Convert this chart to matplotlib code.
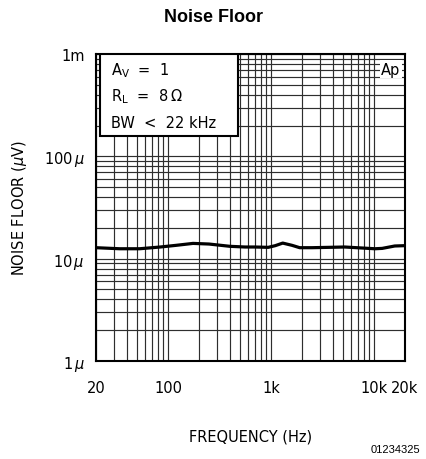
import matplotlib
matplotlib.use("Agg")
import matplotlib.pyplot as plt
from matplotlib.patches import Rectangle
from matplotlib.ticker import FixedLocator, FixedFormatter, LogLocator, NullFormatter

# curve (Hz, volts)
freq_hz = [20, 34, 53, 84, 120, 175, 250, 400, 560, 700, 940, 1100, 1300, 1600,
           1900, 2500, 5200, 10200, 12000, 15900, 20000]
noise_v = [12.8e-6, 12.5e-6, 12.5e-6, 13.0e-6, 13.5e-6, 14.1e-6, 13.9e-6, 13.2e-6,
           13.0e-6, 13.0e-6, 12.9e-6, 13.4e-6, 14.2e-6, 13.5e-6, 12.8e-6, 12.8e-6,
           13.0e-6, 12.5e-6, 12.6e-6, 13.3e-6, 13.4e-6]

x_ticks = [20, 100, 1000, 10000, 20000]
x_labels = ["20", "100", "1k", "10k", "20k"]
y_ticks = [1e-6, 1e-5, 1e-4, 1e-3]
y_labels = ["1$\\,\\mu$", "10$\\,\\mu$", "100$\\,\\mu$", "1m"]
box_lines = ["A$_\\mathregular{V}$  =  1", "R$_\\mathregular{L}$  =  8$\\,\\Omega$", "BW  <  22 kHz"]

plt.rcParams["font.family"] = ["DejaVu Sans"]
plt.rcParams["mathtext.fontset"] = "dejavusans"

fig = plt.figure(figsize=(4.27, 4.60), dpi=100)
ax = fig.add_axes([96 / 427, 1 - 362 / 460, 309 / 427, 307 / 460])

ax.set_xscale("log")
ax.set_yscale("log")
ax.set_xlim(20, 20000)
ax.set_ylim(1e-6, 1e-3)

ax.plot(freq_hz, noise_v, color="black", linewidth=2.3, solid_capstyle="round", zorder=3)

ax.xaxis.set_major_locator(FixedLocator(x_ticks))
ax.xaxis.set_major_formatter(FixedFormatter(x_labels))
ax.xaxis.set_minor_locator(LogLocator(base=10, subs=range(2, 10)))
ax.xaxis.set_minor_formatter(NullFormatter())
ax.yaxis.set_major_locator(FixedLocator(y_ticks))
ax.yaxis.set_major_formatter(FixedFormatter(y_labels))
ax.yaxis.set_minor_locator(LogLocator(base=10, subs=range(2, 10)))
ax.yaxis.set_minor_formatter(NullFormatter())

ax.grid(True, which="both", color="#2e2e2e", linewidth=0.85)
ax.tick_params(which="both", length=0, labelsize=10.5)
ax.tick_params(axis="x", pad=14)
ax.tick_params(axis="y", pad=8)
for sp in ax.spines.values():
    sp.set_linewidth(1.5)

ax.set_xlabel("FREQUENCY (Hz)", fontsize=10.5, labelpad=24)
ax.set_ylabel("NOISE FLOOR ($\\mu$V)", fontsize=10.5, labelpad=11)

fig.text(0.5, 1 - 18 / 460, "Noise Floor", ha="center", va="center",
         fontsize=13, fontweight="bold", family="Liberation Sans")
fig.text(420 / 427, 1 - 450 / 460, "01234325", ha="right", va="center",
         fontsize=8, family="Liberation Sans")

# conditions box in the top left corner
ax.add_patch(Rectangle((0.013, 0.733), 0.447, 0.267, transform=ax.transAxes,
                       facecolor="white", edgecolor="black", linewidth=1.5, zorder=5))
for i, line in enumerate(box_lines):
    ax.text(0.05, 0.95 - i * 0.086, line, transform=ax.transAxes, ha="left",
            va="center", fontsize=10.5, zorder=6)
ax.text(0.985, 0.975, "Ap", transform=ax.transAxes, ha="right", va="top",
        fontsize=10.5, zorder=5,
        bbox=dict(boxstyle="square,pad=0.1", facecolor="white", edgecolor="none"))

fig.savefig("out.png", dpi=100)
